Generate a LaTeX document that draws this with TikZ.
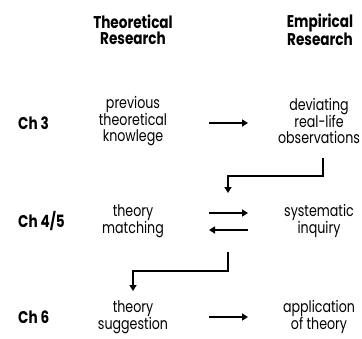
\documentclass[tikz,border=0pt]{standalone}
\usepackage{fontspec}
\setmainfont{Poppins}[FakeStretch=0.79]
\newfontfamily\headfont{Poppins}[FakeStretch=0.8]
\usetikzlibrary{arrows.meta}
\tikzset{
  lbl/.style={align=center, font=\fontsize{16}{16}\selectfont, inner sep=0pt},
  head/.style={align=center, font=\headfont\fontsize{17}{16}\selectfont\bfseries, inner sep=0pt},
  chap/.style={anchor=west, font=\headfont\fontsize{17}{16}\selectfont\bfseries, inner sep=0pt},
  flow/.style={line width=1.8pt, -{Triangle[length=6pt,width=7pt]}},
}
\begin{document}
\begin{tikzpicture}[x=1pt,y=-1pt]
\useasboundingbox (0,0) rectangle (362,338);
% column headings
\node[head] (hT) at (133,30) {Theoretical\\Research};
\node[head] (hE) at (320,30) {Empirical\\Research};
% chapter labels
\node[chap] (c3) at (18,123) {Ch 3};
\node[chap] (c45) at (18,221) {Ch 4/5};
\node[chap] (c6) at (18,317) {Ch 6};
% row contents
\node[lbl] (prev) at (133,121) {previous\\theoretical\\knowlege};
\node[lbl] (dev)  at (319,121) {deviating\\real-life\\observations};
\node[lbl] (tm)   at (133,221) {theory\\matching};
\node[lbl] (si)   at (319,221) {systematic\\inquiry};
\node[lbl] (ts)   at (133,317) {theory\\suggestion};
\node[lbl] (app)  at (319,317) {application\\of theory};
% horizontal arrows
\coordinate (a1s) at (209,123); \coordinate (a1e) at (248,123);
\coordinate (a2s) at (209,213); \coordinate (a2e) at (248,213);
\coordinate (a3s) at (248,230); \coordinate (a3e) at (209,230);
\coordinate (a4s) at (209,317); \coordinate (a4e) at (248,317);
\draw[flow] (a1s) -- (a1e);
\draw[flow] (a2s) -- (a2e);
\draw[flow] (a3s) -- (a3e);
\draw[flow] (a4s) -- (a4e);
% elbow connectors between rows
\coordinate (e1s) at (323,158); \coordinate (e1e) at (228,193);
\draw[flow] (e1s) |- (228,176) -- (e1e);
\coordinate (e2s) at (228,252); \coordinate (e2e) at (133,291);
\draw[flow] (e2s) |- (133,271) -- (e2e);
\end{tikzpicture}
\end{document}
